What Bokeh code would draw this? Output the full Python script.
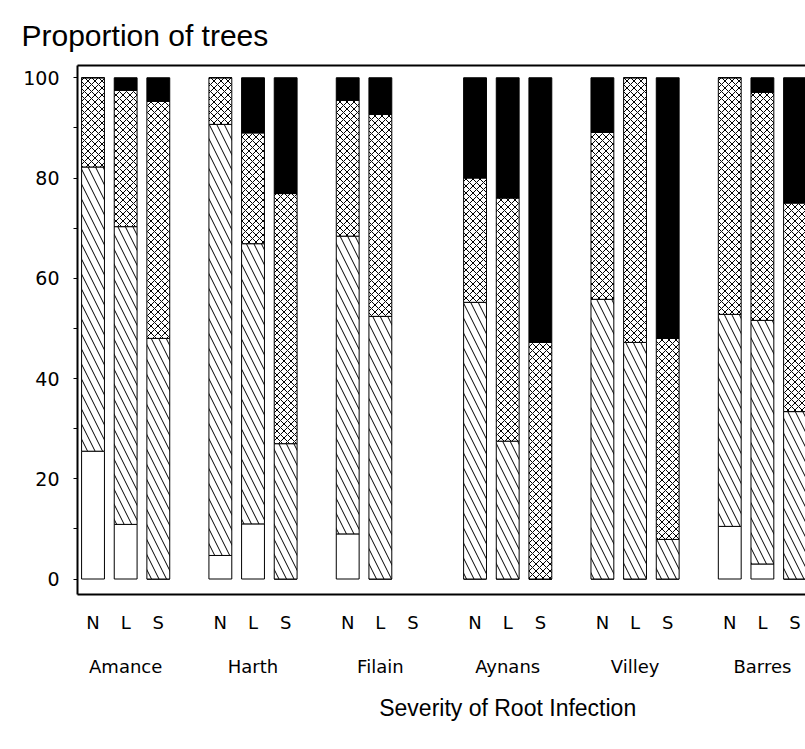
from bokeh.plotting import figure
from bokeh.models import ColumnDataSource, FixedTicker, LinearAxis, Range1d
from bokeh.embed import file_html
from bokeh.resources import INLINE

# ---------------- data ----------------
sites = ["Amance", "Harth", "Filain", "Aynans", "Villey", "Barres"]
severity = ["N", "L", "S"]
y_ticks = [0, 20, 40, 60, 80, 100]
y_minor = [10, 30, 50, 70, 90]

# proportion of trees (%) per class, order: site x severity (N, L, S)
class_clear = [25.5, 10.9, 0.0, 4.7, 11.0, 0.0, 9.0, 0.0, 0.0,
               0.0, 0.0, 0.0, 0.0, 0.0, 0.0, 10.5, 3.0, 0.0]
class_hatched = [56.7, 59.4, 48.0, 86.0, 55.9, 27.0, 59.4, 52.4, 0.0,
                 55.2, 27.5, 0.0, 55.8, 47.2, 7.9, 42.3, 48.6, 33.4]
class_cross = [17.8, 27.2, 47.3, 9.3, 22.1, 49.9, 27.1, 40.3, 0.0,
               24.8, 48.5, 47.2, 33.3, 52.8, 40.1, 47.2, 45.5, 41.6]
class_black = [0.0, 2.5, 4.7, 0.0, 11.0, 23.1, 4.5, 7.3, 0.0,
               20.0, 24.0, 52.8, 10.9, 0.0, 52.0, 0.0, 2.9, 25.0]

x_title = "Severity of Root Infection"
y_title = "Proportion of trees"

# ---------------- layout helpers ----------------
GROUP_STEP = 39   # x units between groups
BAR_STEP = 10     # x units between bars of a group
BAR_W = 7
X_TITLE_POS = 127  # horizontal centre of the x title (x units)

xs, labels = [], {}
for g, site in enumerate(sites):
    for k, sv in enumerate(severity):
        x = g * GROUP_STEP + k * BAR_STEP
        xs.append(x)
        labels[x] = sv
group_centers = {g * GROUP_STEP + BAR_STEP: s for g, s in enumerate(sites)}

rows = [i for i in range(len(xs))
        if class_clear[i] + class_hatched[i] + class_cross[i] + class_black[i] > 0]
src = ColumnDataSource(dict(
    x=[xs[i] for i in rows],
    clear=[class_clear[i] for i in rows],
    hatched=[class_hatched[i] for i in rows],
    cross=[class_cross[i] for i in rows],
    black=[class_black[i] for i in rows],
))

p = figure(width=805, height=745,
           x_range=Range1d(-4.75, 218.2), y_range=Range1d(-3.09, 102.45),
           output_backend="svg", toolbar_location=None,
           min_border_left=77, min_border_right=0,
           min_border_top=65, min_border_bottom=151)
p.outline_line_color = None
p.xgrid.grid_line_color = None
p.ygrid.grid_line_color = None
p.background_fill_color = "white"

p.vbar_stack(["clear", "hatched", "cross", "black"], x="x", width=BAR_W, source=src,
             fill_color=["white", "white", "white", "black"],
             line_color="black", line_width=1,
             hatch_pattern=[" ", "\\", "x", " "],
             hatch_color="black", hatch_weight=1,
             hatch_scale=[12, 15, 7, 12])

TICK_FONT = "DejaVu Sans"


def plain_axis(ax, size, standoff):
    ax.axis_line_color = None
    ax.major_tick_line_color = None
    ax.minor_tick_line_color = None
    ax.major_tick_out = 0
    ax.major_tick_in = 0
    ax.minor_tick_out = 0
    ax.minor_tick_in = 0
    ax.major_label_text_font = TICK_FONT
    ax.major_label_text_font_size = size
    ax.major_label_text_color = "black"
    ax.major_label_standoff = standoff


# y axis
ya = p.yaxis[0]
ya.ticker = FixedTicker(ticks=y_ticks, minor_ticks=y_minor)
ya.axis_line_width = 2
ya.axis_line_color = "black"
ya.major_tick_out = 4
ya.major_tick_in = 0
ya.minor_tick_out = 4
ya.minor_tick_in = 0
ya.major_tick_line_color = "black"
ya.minor_tick_line_color = "black"
ya.major_label_text_font = TICK_FONT
ya.major_label_text_font_size = "19px"
ya.major_label_text_color = "black"
ya.major_label_standoff = 14

# x axis: severity per bar
xa = p.xaxis[0]
xa.ticker = FixedTicker(ticks=xs, minor_ticks=[])
xa.major_label_overrides = labels
plain_axis(xa, "18px", 17)
xa.axis_line_color = "black"
xa.axis_line_width = 2

# second x axis: site names
ga = LinearAxis(ticker=FixedTicker(ticks=list(group_centers.keys()), minor_ticks=[]))
ga.major_label_overrides = group_centers
plain_axis(ga, "18px", 20)
p.add_layout(ga, "below")

# third x axis: axis title placed at the original centre
sa = LinearAxis(ticker=FixedTicker(ticks=[X_TITLE_POS], minor_ticks=[]))
sa.major_label_overrides = {X_TITLE_POS: x_title}
plain_axis(sa, "23px", 15)
sa.major_label_text_font = "Liberation Sans"
p.add_layout(sa, "below")

# top frame line
ta = LinearAxis(ticker=FixedTicker(ticks=[], minor_ticks=[]))
plain_axis(ta, "0px", 0)
ta.axis_line_width = 2
ta.axis_line_color = "black"
p.add_layout(ta, "above")

# title
p.title.text = y_title
p.title.align = "left"
p.title.offset = -56
p.title.text_font = "Liberation Sans"
p.title.text_font_size = "30px"
p.title.text_font_style = "normal"
p.title.text_color = "black"
p.title.standoff = 28

open("out.html", "w").write(file_html(p, INLINE))
